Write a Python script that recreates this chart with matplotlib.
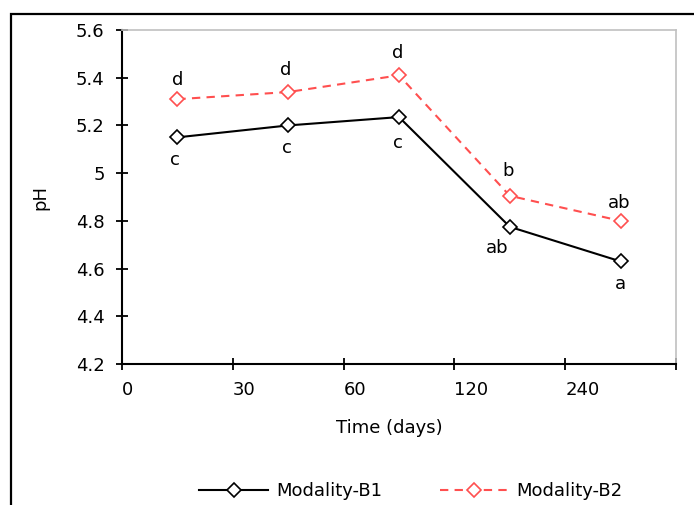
import numpy as np
import matplotlib
matplotlib.use("Agg")
import matplotlib.pyplot as plt
from matplotlib.patches import Rectangle

# data
days = ["0", "30", "60", "120", "240"]
ph_b1 = [5.15, 5.20, 5.235, 4.775, 4.63]
ph_b2 = [5.31, 5.34, 5.41, 4.905, 4.80]
let_b1 = ["c", "c", "c", "ab", "a"]
let_b2 = ["d", "d", "d", "b", "ab"]

plt.rcParams['font.family'] = 'DejaVu Sans'
plt.rcParams['font.size'] = 13

fig = plt.figure(figsize=(6.94, 5.05), dpi=100)
ax = fig.add_axes([122/694, 1 - 364/505, 554/694, 334/505])

x = np.arange(len(days)) + 0.5
ax.plot(x, ph_b1, color='black', lw=1.5, marker='D', ms=7,
        mfc='white', mec='black', mew=1.2, label='Modality-B1', zorder=3)
ax.plot(x, ph_b2, color='#FF4F4F', lw=1.5, ls=(0, (4, 3)), marker='D', ms=7,
        mfc='white', mec='#FF4F4F', mew=1.2, label='Modality-B2', zorder=3)

# significance letters
off_b1 = [(-2, -16), (-1, -16), (-1, -19), (-9, -15), (0, -16)]
off_b2 = [(0, 14), (-2, 16), (-1, 16), (-1, 18), (-1, 13)]
for xi, yi, t, o in zip(x, ph_b1, let_b1, off_b1):
    ax.annotate(t, (xi, yi), xytext=o, textcoords='offset points',
                ha='center', va='center')
for xi, yi, t, o in zip(x, ph_b2, let_b2, off_b2):
    ax.annotate(t, (xi, yi), xytext=o, textcoords='offset points',
                ha='center', va='center')

ax.set_xlim(0, len(days))
ax.set_ylim(4.2, 5.6)
ax.set_yticks(np.arange(4.2, 5.61, 0.2))
ax.set_yticklabels(["4.2", "4.4", "4.6", "4.8", "5", "5.2", "5.4", "5.6"])
ax.set_xticks(np.arange(len(days) + 1))
ax.set_xticklabels(days + [""], ha='left')
ax.tick_params(direction='inout', length=9, width=1.3, color='black')
ax.tick_params(axis='y', pad=8)
ax.tick_params(axis='x', pad=8)

for s in ['left', 'bottom']:
    ax.spines[s].set_linewidth(1.5)
    ax.spines[s].set_color('black')
for s in ['top', 'right']:
    ax.spines[s].set_linewidth(1.2)
    ax.spines[s].set_color('#C0C0C0')

fig.text(389/694, 1 - 428/505, "Time (days)", ha='center', va='center')
fig.text(40/694, 1 - 197/505, "pH", ha='center', va='center', rotation=90)

fig.legend(loc='center', bbox_to_anchor=(411/694, 1 - 491/505), ncol=2,
           frameon=False, handlelength=3.8, columnspacing=3.2, handletextpad=0.45)

# outer frame
fig.patches.append(Rectangle((11/694, -0.1), 1.2, 1.1 - 14/505,
                             transform=fig.transFigure, fill=False,
                             lw=1.6, ec='black', clip_on=False))

fig.savefig("out.png", dpi=100)
